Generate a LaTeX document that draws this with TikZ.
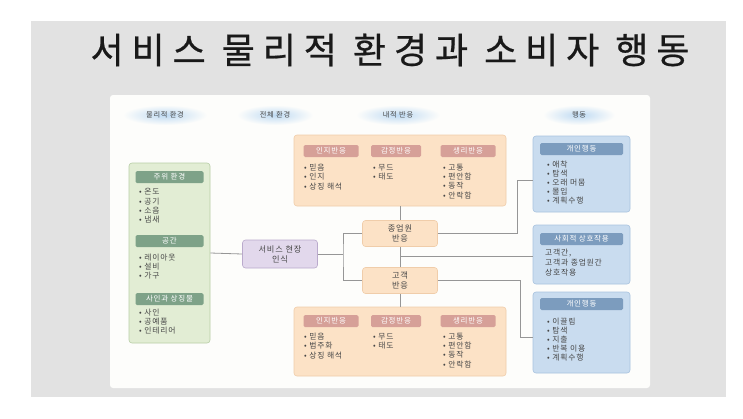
\documentclass[tikz,border=0pt]{standalone}
\usepackage{fontspec}
\setmainfont[LetterSpace=10]{Noto Sans CJK KR}
\newfontfamily\titlefont[LetterSpace=22,FakeBold=0.6]{Noto Sans CJK KR}
\usetikzlibrary{calc}
\definecolor{bgray}{RGB}{226,226,226}
\definecolor{panel}{RGB}{253,253,251}
\definecolor{gfill}{RGB}{226,237,212}
\definecolor{gline}{RGB}{184,206,166}
\definecolor{ghead}{RGB}{126,162,136}
\definecolor{ofill}{RGB}{252,226,198}
\definecolor{oline}{RGB}{240,205,170}
\definecolor{ohead}{RGB}{214,160,152}
\definecolor{pfill}{RGB}{226,216,236}
\definecolor{pline}{RGB}{186,170,204}
\definecolor{bfill}{RGB}{201,220,239}
\definecolor{bline}{RGB}{168,195,223}
\definecolor{bhead}{RGB}{124,156,190}
\definecolor{glow}{RGB}{190,218,243}
\definecolor{conncol}{RGB}{150,150,150}
\definecolor{itemcol}{RGB}{70,70,70}
\tikzset{
  box/.style={draw, line width=0.6pt, rounded corners=3pt, inner sep=0pt},
  greenbox/.style={box, fill=gfill, draw=gline},
  orangebox/.style={box, fill=ofill, draw=oline},
  purplebox/.style={box, fill=pfill, draw=pline},
  bluebox/.style={box, fill=bfill, draw=bline},
  hdr/.style={rounded corners=1.5pt, inner sep=0pt, text=white, font=\fontsize{7.5}{8}\selectfont},
  hdrgreen/.style={hdr, fill=ghead},
  hdrorange/.style={hdr, fill=ohead},
  hdrblue/.style={hdr, fill=bhead},
  items/.style={anchor=north west, inner sep=0pt, align=left, text=itemcol, font=\fontsize{7.8}{9.2}\selectfont},
  midtext/.style={align=center, text=itemcol, font=\fontsize{8.2}{10}\selectfont},
  toplabel/.style={text=itemcol, font=\fontsize{7.2}{8}\selectfont},
  conn/.style={draw=conncol, line width=0.8pt}
}
\begin{document}
\begin{tikzpicture}[x=1pt,y=-1pt]
\useasboundingbox (0,0) rectangle (743,418);
\fill[white] (0,0) rectangle (743,418);
\fill[bgray] (31,21) rectangle (726,397);
\fill[panel, rounded corners=3pt] (110,95) rectangle (650,388);
% title
\node[font=\titlefont\fontsize{36}{38}\selectfont, text=black!90] (title) at (390,50) {서비스 물리적 환경과 소비자 행동};
% header labels with glow
\shade[inner color=glow, outer color=panel] (165,115) ellipse (42 and 10);
\shade[inner color=glow, outer color=panel] (275,115) ellipse (38 and 10);
\shade[inner color=glow, outer color=panel] (398,115) ellipse (42 and 10);
\shade[inner color=glow, outer color=panel] (579,115) ellipse (36 and 10);
\node[toplabel] (l1) at (165,115) {물리적 환경};
\node[toplabel] (l2) at (275,115) {전체 환경};
\node[toplabel] (l3) at (398,115) {내적 반응};
\node[toplabel] (l4) at (579,115) {행동};
% green box
\node[greenbox, minimum width=81pt, minimum height=180pt] (green) at (169.5,253) {};
\node[hdrgreen, minimum width=68pt, minimum height=12pt] (g1h) at (169.5,177) {주위 환경};
\node[items] (g1i) at (139,188.5) {• 온도\\• 공기\\• 소음\\• 냄새};
\node[hdrgreen, minimum width=68pt, minimum height=12pt] (g2h) at (169.5,241) {공간};
\node[items] (g2i) at (139,253.5) {• 레이아웃\\• 설비\\• 가구};
\node[hdrgreen, minimum width=68pt, minimum height=12pt] (g3h) at (169.5,299) {사인과 상징물};
\node[items] (g3i) at (139,308.5) {• 사인\\• 공예품\\• 인테리어};
% purple
\node[purplebox, minimum width=75pt, minimum height=28pt, midtext] (purple) at (280,254) {서비스 현장\\인식};
% top orange
\node[orangebox, minimum width=212pt, minimum height=71pt] (torange) at (400,170.5) {};
\node[hdrorange, minimum width=55pt, minimum height=12pt] (t1h) at (331,151) {인지반응};
\node[hdrorange, minimum width=50pt, minimum height=12pt] (t2h) at (396,151) {감정반응};
\node[hdrorange, minimum width=55pt, minimum height=12pt] (t3h) at (468,151) {생리반응};
\node[items] (t1i) at (304,164) {• 믿음\\• 인지\\• 상징 해석};
\node[items] (t2i) at (373,164) {• 무드\\• 태도};
\node[items] (t3i) at (443,164) {• 고통\\• 편안함\\• 동작\\• 안락함};
% employee / customer
\node[orangebox, minimum width=75pt, minimum height=26pt, midtext] (emp) at (400,233.5) {종업원\\반응};
\node[orangebox, minimum width=75pt, minimum height=26pt, midtext] (cust) at (400,280.5) {고객\\반응};
% bottom orange
\node[orangebox, minimum width=212pt, minimum height=69pt] (borange) at (400,341.5) {};
\node[hdrorange, minimum width=55pt, minimum height=12pt] (b1h) at (331,321) {인지반응};
\node[hdrorange, minimum width=50pt, minimum height=12pt] (b2h) at (396,321) {감정반응};
\node[hdrorange, minimum width=55pt, minimum height=12pt] (b3h) at (468,321) {생리반응};
\node[items] (b1i) at (304,333) {• 믿음\\• 범주화\\• 상징 해석};
\node[items] (b2i) at (373,333) {• 무드\\• 태도};
\node[items] (b3i) at (443,333) {• 고통\\• 편안함\\• 동작\\• 안락함};
% blue boxes
\node[bluebox, minimum width=97pt, minimum height=76pt] (blue1) at (581.5,174) {};
\node[hdrblue, minimum width=83pt, minimum height=12pt] (u1h) at (581.5,149) {개인행동};
\node[items] (u1i) at (547,160.5) {• 애착\\• 탐색\\• 오래 머뭄\\• 몰입\\• 계획수행};
\node[bluebox, minimum width=97pt, minimum height=59pt] (blue2) at (581.5,254.5) {};
\node[hdrblue, minimum width=83pt, minimum height=12pt] (u2h) at (581.5,239) {사회적 상호작용};
\node[items, font=\fontsize{7.8}{10}\selectfont] (u2i) at (545,248.5) {고객간,\\고객과 종업원간\\상호작용};
\node[bluebox, minimum width=97pt, minimum height=81pt] (blue3) at (581.5,332.5) {};
\node[hdrblue, minimum width=83pt, minimum height=12pt] (u3h) at (581.5,304) {개인행동};
\node[items] (u3i) at (547,317.5) {• 이끌림\\• 탐색\\• 지출\\• 반복 이용\\• 계획수행};
% connectors
\coordinate (br) at (343,254);
\coordinate (mid) at (400,256.5);
\draw[conn] (green.east) -- (purple.west);
\draw[conn] (purple.east) -- (br);
\draw[conn] (emp.west) -| (br) |- (cust.west);
\draw[conn] (torange.south) -- (emp.north);
\draw[conn] (emp.south) -- (cust.north);
\draw[conn] (cust.south) -- (borange.north);
\draw[conn] (mid) -- (mid -| blue2.west);
\draw[conn] (emp.east) -| ($(blue1.west)+(-15,6)$) -- ($(blue1.west)+(0,6)$);
\draw[conn] (cust.east) -| ($(blue3.west)+(-12,4.5)$) -- ($(blue3.west)+(0,4.5)$);
\end{tikzpicture}
\end{document}
